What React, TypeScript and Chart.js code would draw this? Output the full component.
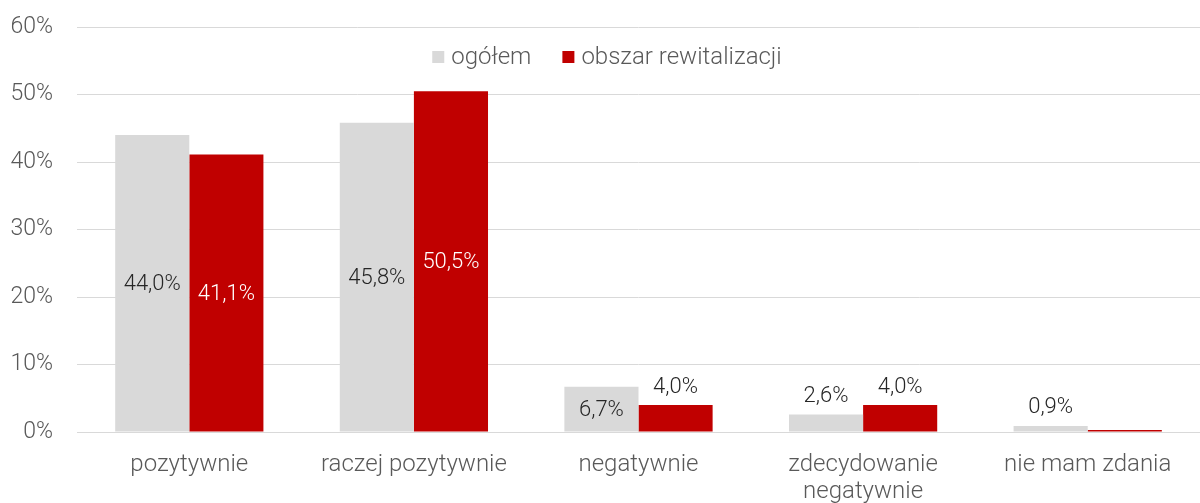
import React, { useEffect, useRef } from 'react';
import { Chart, registerables } from 'chart.js';

Chart.register(...registerables);

const categories: (string | string[])[] = [
  'pozytywnie',
  'raczej pozytywnie',
  'negatywnie',
  ['zdecydowanie', 'negatywnie'],
  'nie mam zdania',
];
const seriesNames = ['ogółem', 'obszar rewitalizacji'];
const ogolem = [44.0, 45.8, 6.7, 2.6, 0.9];
const obszarRewitalizacji = [41.1, 50.5, 4.0, 4.0, 0.3];
const yMin = 0;
const yMax = 60;
const yStep = 10;

const GRAY = '#d9d9d9';
const RED = '#c00000';
const TEXT = '#595959';
const LABEL = '#262626';
const FONT = 'Roboto';

const fmt = (v: number) => v.toFixed(1).replace('.', ',') + '%';

const labelPlugin = {
  id: 'barLabels',
  afterDatasetsDraw(chart: any) {
    const ctx = chart.ctx;
    ctx.save();
    ctx.font = `300 22px ${FONT}`;
    ctx.textAlign = 'center';
    ctx.textBaseline = 'middle';
    chart.data.datasets.forEach((ds: any, di: number) => {
      const meta = chart.getDatasetMeta(di);
      meta.data.forEach((bar: any, i: number) => {
        const v = ds.data[i];
        if (v < 0.5) return;
        const h = bar.base - bar.y;
        if (h >= 40) {
          ctx.fillStyle = di === 1 ? '#ffffff' : LABEL;
          ctx.fillText(fmt(v), bar.x, (bar.y + bar.base) / 2 + 1);
        } else {
          ctx.fillStyle = LABEL;
          ctx.fillText(fmt(v), bar.x, bar.y - 18);
        }
      });
    });
    ctx.restore();
  },
};

const legendPlugin = {
  id: 'customLegend',
  afterDraw(chart: any) {
    const ctx = chart.ctx;
    ctx.save();
    ctx.font = `300 24px ${FONT}`;
    ctx.textBaseline = 'middle';
    ctx.textAlign = 'left';
    const colors = [GRAY, RED];
    const box = 12;
    const gapBox = 7;
    const gapItem = 31;
    const widths = seriesNames.map((n) => ctx.measureText(n).width);
    const total = widths.reduce((a, w) => a + box + gapBox + w, 0) + gapItem * (seriesNames.length - 1);
    let x = 607 - total / 2;
    const y = 57;
    seriesNames.forEach((n, i) => {
      ctx.fillStyle = colors[i];
      ctx.fillRect(x, y - box / 2, box, box);
      x += box + gapBox;
      ctx.fillStyle = TEXT;
      ctx.fillText(n, x, y + 1);
      x += widths[i] + gapItem;
    });
    ctx.restore();
  },
};

export default function App() {
  const ref = useRef<HTMLCanvasElement | null>(null);
  useEffect(() => {
    document.body.style.margin = '0';
    const canvas = ref.current!;
    const chart = new Chart(canvas, {
      type: 'bar',
      data: {
        labels: categories as any,
        datasets: [
          {
            label: seriesNames[0],
            data: ogolem,
            backgroundColor: GRAY,
            barPercentage: 1,
            categoryPercentage: 0.66,
          },
          {
            label: seriesNames[1],
            data: obszarRewitalizacji,
            backgroundColor: RED,
            barPercentage: 1,
            categoryPercentage: 0.66,
          },
        ],
      },
      options: {
        animation: false,
        responsive: false,
        maintainAspectRatio: false,
        layout: { padding: { top: 27, left: 0, right: 0, bottom: 0 } },
        plugins: {
          legend: { display: false },
          tooltip: { enabled: false },
        },
        scales: {
          x: {
            grid: { display: false, drawTicks: false },
            border: { display: true, color: GRAY, width: 1 },
            ticks: {
              color: TEXT,
              font: { family: FONT, size: 24, weight: '300' as any, lineHeight: 1.13 },
              padding: 19,
              maxRotation: 0,
              autoSkip: false,
            },
            afterFit: (s: any) => {
              s.height = 71;
              s.paddingLeft = 0;
              s.paddingRight = 0;
            },
          },
          y: {
            min: yMin,
            max: yMax,
            grid: { color: GRAY, lineWidth: 1, drawTicks: false },
            border: { display: false },
            ticks: {
              stepSize: yStep,
              color: TEXT,
              padding: 24,
              font: { family: FONT, size: 23, weight: '300' as any },
              callback: (v: any) => v + '%',
            },
            afterFit: (s: any) => {
              s.width = 77;
              s.paddingTop = 0;
              s.paddingBottom = 0;
            },
          },
        },
      },
      plugins: [labelPlugin, legendPlugin],
    });
    return () => chart.destroy();
  }, []);
  return <canvas ref={ref} width={1200} height={503} style={{ display: 'block' }} />;
}
